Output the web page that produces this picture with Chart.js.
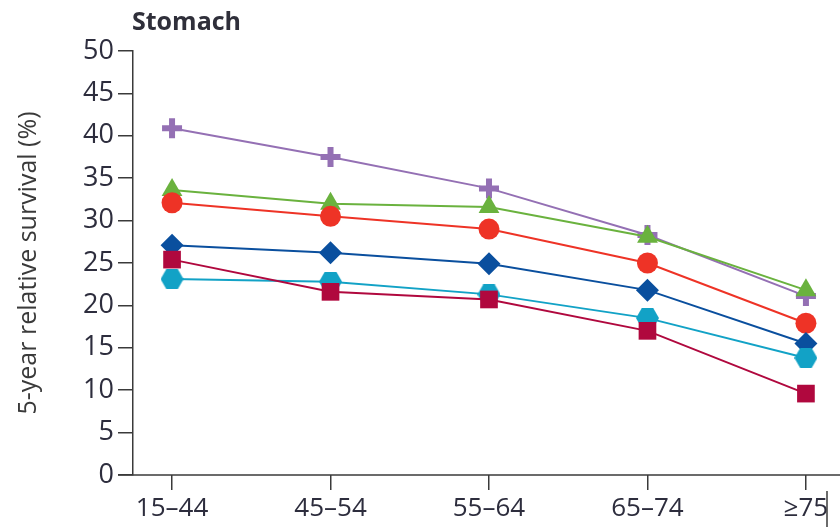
<!DOCTYPE html>
<html>
<head>
<meta charset="utf-8">
<script src="https://cdn.jsdelivr.net/npm/chart.js@4"></script>
<style>
  html, body { margin: 0; padding: 0; background: #ffffff; }
  #wrap { width: 840px; height: 527px; position: relative; }
</style>
</head>
<body>
<div id="wrap"><canvas id="c" width="840" height="527"></canvas></div>
<script>
// ---- data ----
const chartTitle = "Stomach";
const yAxisTitle = "5-year relative survival (%)";
const ageGroups = ["15–44", "45–54", "55–64", "65–74", "≥75"];
const seriesPurple  = [40.9, 37.5, 33.8, 28.3, 21.1];
const seriesGreen   = [33.6, 32.0, 31.6, 28.1, 21.8];
const seriesRed     = [32.1, 30.5, 29.0, 25.0, 17.9];
const seriesBlue    = [27.1, 26.2, 24.9, 21.8, 15.5];
const seriesCrimson = [25.4, 21.6, 20.7, 17.0, 9.6];
const seriesCyan    = [23.1, 22.8, 21.3, 18.5, 13.8];
const yTicks = [0, 5, 10, 15, 20, 25, 30, 35, 40, 45, 50];

// hexagon point style
function makeHexagon(color, w, h) {
  const cv = document.createElement('canvas');
  cv.width = w; cv.height = h;
  const g = cv.getContext('2d');
  g.fillStyle = color;
  g.beginPath();
  g.moveTo(0, h / 2);
  g.lineTo(w * 0.25, 0);
  g.lineTo(w * 0.75, 0);
  g.lineTo(w, h / 2);
  g.lineTo(w * 0.75, h);
  g.lineTo(w * 0.25, h);
  g.closePath();
  g.fill();
  return cv;
}

const toPoints = arr => arr.map((v, i) => ({ x: i, y: v }));

function ds(data, color, style, radius, bw) {
  return {
    data: toPoints(data),
    borderColor: color,
    backgroundColor: color,
    borderWidth: 2,
    pointStyle: style,
    pointRadius: radius,
    pointHoverRadius: radius,
    pointBorderColor: color,
    pointBackgroundColor: color,
    pointBorderWidth: bw,
    tension: 0
  };
}

const datasets = [
  ds(seriesCrimson, '#b0083e', 'rect', 12.5, 0),
  ds(seriesCyan, '#12a2c6', makeHexagon('#12a2c6', 23, 20), 10, 0),
  ds(seriesBlue, '#0a4f9e', 'rectRot', 11.5, 0),
  ds(seriesRed, '#ee3326', 'circle', 10.5, 0),
  ds(seriesGreen, '#6ab23e', 'triangle', 12, 0),
  ds(seriesPurple, '#9470b4', 'cross', 10, 6)
];

const decor = {
  id: 'decor',
  afterDraw(chart) {
    const ctx = chart.ctx;
    const a = chart.chartArea;
    ctx.save();
    // x-axis baseline extended left under y tick marks
    ctx.strokeStyle = '#3a3a3a';
    ctx.lineWidth = 1.5;
    ctx.beginPath();
    ctx.moveTo(a.left - 15, a.bottom);
    ctx.lineTo(840, a.bottom);
    ctx.stroke();
    // edge of neighbouring panel
    ctx.beginPath();
    ctx.moveTo(827, 491);
    ctx.lineTo(827, 527);
    ctx.stroke();
    // title
    ctx.fillStyle = '#2f2f3a';
    ctx.font = 'bold 25px "Open Sans", "DejaVu Sans", sans-serif';
    ctx.textBaseline = 'middle';
    ctx.textAlign = 'left';
    ctx.fillText(chartTitle, a.left - 1, 23);
    ctx.restore();
  }
};

new Chart(document.getElementById('c'), {
  type: 'line',
  data: { datasets },
  options: {
    responsive: false,
    animation: false,
    devicePixelRatio: 1,
    layout: { padding: { top: 51, left: 0, right: 0, bottom: 0 } },
    plugins: { legend: { display: false }, tooltip: { enabled: false }, title: { display: false } },
    scales: {
      x: {
        type: 'linear',
        min: -0.2464,
        max: 4.114,
        afterBuildTicks(scale) {
          scale.ticks = ageGroups.map((_, i) => ({ value: i }));
        },
        afterFit(scale) { scale.height = 52; },
        border: { display: false },
        grid: { display: true, drawOnChartArea: false, drawTicks: true, tickLength: 15, color: '#3a3a3a', lineWidth: 1.5 },
        ticks: {
          callback: (v) => ageGroups[v] ?? '',
          color: '#2d2d3d',
          font: { family: '"Open Sans", "DejaVu Sans", sans-serif', size: 26 },
          padding: 3,
          maxRotation: 0,
          autoSkip: false
        }
      },
      y: {
        min: 0,
        max: 50,
        afterBuildTicks(scale) {
          scale.ticks = yTicks.map(v => ({ value: v }));
        },
        afterFit(scale) { scale.width = 133; },
        border: { display: true, color: '#3a3a3a', width: 1.5 },
        grid: { display: true, drawOnChartArea: false, drawTicks: true, tickLength: 15, color: '#3a3a3a', lineWidth: 1.5 },
        ticks: {
          color: '#2d2d3d',
          font: { family: '"Open Sans", "DejaVu Sans", sans-serif', size: 27 },
          padding: 4
        },
        title: {
          display: true,
          text: yAxisTitle,
          color: '#3a3a3a',
          font: { family: '"Open Sans", "DejaVu Sans", sans-serif', size: 25 },
          padding: { top: 14, bottom: 0 }
        }
      }
    }
  },
  plugins: [decor]
});
</script>
</body>
</html>
